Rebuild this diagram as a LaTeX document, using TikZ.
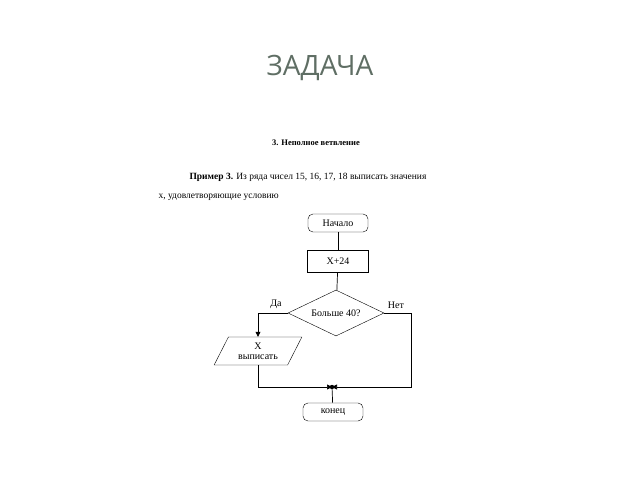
\documentclass[tikz,border=0pt]{standalone}
\usepackage{fontspec}
\setmainfont{Liberation Serif}
\newfontfamily\titlefont{Open Sans}
\usetikzlibrary{shapes.geometric,arrows.meta}
\definecolor{titlegray}{RGB}{95,110,100}
\begin{document}
\begin{tikzpicture}[x=1pt,y=-1pt, font=\fontsize{10}{11}\selectfont,
  term/.style={draw, rounded corners=5pt, minimum width=60pt, minimum height=18pt, inner sep=1pt},
  proc/.style={draw, minimum width=61pt, minimum height=22pt, inner sep=1pt},
  cond/.style={draw, diamond, aspect=2.1, minimum width=96pt, minimum height=46pt, inner sep=0pt},
  io/.style={draw, trapezium, trapezium left angle=60, trapezium right angle=120, trapezium stretches=true, minimum width=88pt, minimum height=28pt, inner sep=0pt, align=center},
  line/.style={draw, line width=0.7pt},
  arr/.style={line, -{Triangle[length=5pt,width=5pt]}}]
\useasboundingbox (0,0) rectangle (640,480);
\node[titlegray, font=\titlefont\fontsize{28}{32}\selectfont] (title) at (320,68) {ЗАДАЧА};
\node[font=\bfseries\fontsize{8.5}{10}\selectfont] (head) at (316,143) {3. Неполное ветвление};
\node[anchor=west, font=\fontsize{9.5}{11}\selectfont] (ex1) at (186,177) {\textbf{Пример 3.} Из ряда чисел 15, 16, 17, 18 выписать значения};
\node[anchor=west, font=\fontsize{9.5}{11}\selectfont] (ex2) at (155,197) {x, удовлетворяющие условию};
\node[term] (start) at (338,223) {Начало};
\node[proc] (calc) at (338,261) {X+24};
\node[cond] (test) at (336,313) {Больше 40?};
\node[io, font=\fontsize{10}{10}\selectfont] (out) at (258,351) {X\\выписать};
\node[term] (stop) at (333,412) {конец};
\coordinate (join) at (332,387);
\fill (join) circle (2.2pt);
\node (yes) at (276,304) {Да};
\node (no) at (396,305) {Нет};
\draw[line] (start) -- (calc);
\draw[line] (calc) -- (test);
\draw[arr] (test.west) -| (out.north);
\draw[arr] (out.south) |- (join);
\draw[arr] (test.east) -| (411,387) -- (join);
\draw[line] (stop) -- (join);
\end{tikzpicture}
\end{document}
